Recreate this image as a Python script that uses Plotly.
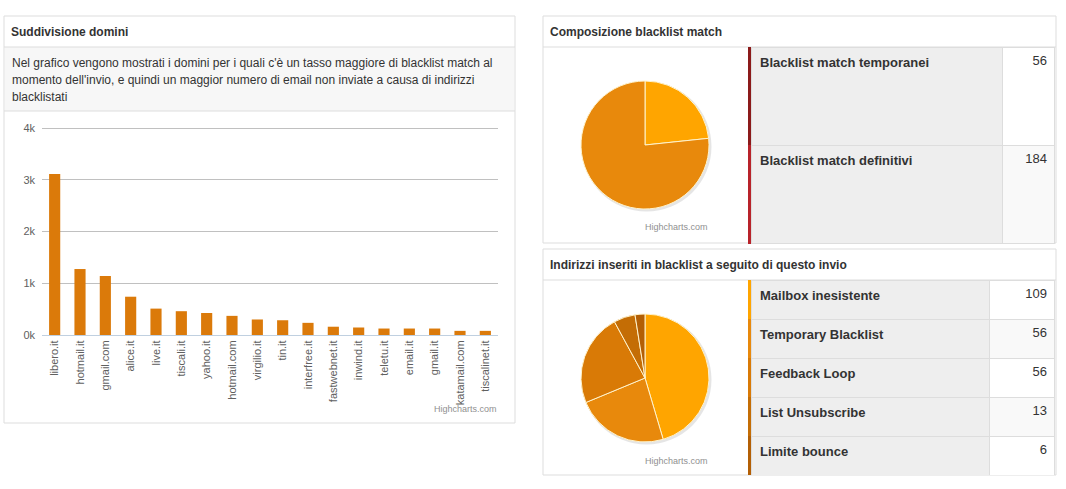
import plotly.graph_objects as go

W, H = 1066, 489

# ---------------- data ----------------
domains = ["libero.it", "hotmail.it", "gmail.com", "alice.it", "live.it", "tiscali.it",
           "yahoo.it", "hotmail.com", "virgilio.it", "tin.it", "interfree.it",
           "fastwebnet.it", "inwind.it", "teletu.it", "email.it", "gmail.it",
           "katamail.com", "tiscalinet.it"]
domain_counts = [3110, 1275, 1140, 740, 510, 460, 425, 370, 300, 285, 235,
                 160, 145, 125, 125, 125, 80, 80]
y_tickvals = [0, 1000, 2000, 3000, 4000]
y_ticktext = ["0k", "1k", "2k", "3k", "4k"]

match_labels = ["Blacklist match temporanei", "Blacklist match definitivi"]
match_values = [56, 184]
match_pie_colors = ["#FFA500", "#E8890C"]
match_strip_colors = ["#8B1A1A", "#B8232A"]

bl_labels = ["Mailbox inesistente", "Temporary Blacklist", "Feedback Loop",
             "List Unsubscribe", "Limite bounce"]
bl_values = [109, 56, 56, 13, 6]
bl_colors = ["#FFA500", "#E8890C", "#D97A06", "#C46D05", "#B35F05"]

FONT = "Arial, Liberation Sans, sans-serif"


def px(x):
    return x / W


def py(y):
    return 1 - y / H


fig = go.Figure()

# ---------------- bar chart ----------------
fig.add_trace(go.Bar(
    x=domains, y=domain_counts, marker=dict(color="#DB7A0A", line=dict(width=0)),
    width=0.44, xaxis="x", yaxis="y", showlegend=False, hoverinfo="x+y"))

# ---------------- pies ----------------
fig.add_trace(go.Pie(
    labels=match_labels, values=match_values, sort=False, direction="clockwise",
    rotation=0, marker=dict(colors=match_pie_colors, line=dict(color="#FFF3CC", width=1)),
    textinfo="none", showlegend=False,
    domain=dict(x=[px(581), px(709)], y=[py(209), py(81)])))

fig.add_trace(go.Pie(
    labels=bl_labels, values=bl_values, sort=False, direction="clockwise",
    rotation=0, marker=dict(colors=bl_colors, line=dict(color="#FFF3CC", width=1)),
    textinfo="none", showlegend=False,
    domain=dict(x=[px(581), px(709)], y=[py(442), py(314)])))

# ---------------- tables ----------------
def make_table(labels, values, strips, value_fills, xdom, ydom, row_h, widths):
    n = len(labels)
    return go.Table(
        domain=dict(x=xdom, y=ydom),
        columnwidth=widths,
        header=dict(values=["", "", ""], height=1,
                    fill=dict(color="rgba(0,0,0,0)"), line=dict(width=0)),
        cells=dict(
            values=[[""] * n, ["<b>%s</b>" % l for l in labels], [str(v) for v in values]],
            fill=dict(color=[strips, ["#EEEEEE"] * n, value_fills]),
            line=dict(color=[strips, ["#DDDDDD"] * n, ["#DDDDDD"] * n], width=1),
            align=["left", "left", "right"],
            font=dict(family=FONT, size=13, color="#333333"),
            height=row_h),
    )


fig.add_trace(make_table(match_labels, match_values, match_strip_colors,
                         ["#FFFFFF", "#F9F9F9"],
                         [px(748), px(1056)], [py(244), py(46)], 98, [4, 251, 53]))
fig.add_trace(make_table(bl_labels, bl_values, bl_colors,
                         ["#FFFFFF", "#F9F9F9", "#FFFFFF", "#F9F9F9", "#FFFFFF"],
                         [px(748), px(1056)], [py(476), py(279)], 39, [4, 238, 66]))

# ---------------- panels (shapes) ----------------
shapes = []


def rect(x0, y0, x1, y1, fill="rgba(0,0,0,0)", line="#DDDDDD", lw=1, layer="below"):
    shapes.append(dict(type="rect", xref="paper", yref="paper",
                       x0=px(x0), x1=px(x1), y0=py(y1), y1=py(y0),
                       fillcolor=fill, line=dict(color=line, width=lw), layer=layer))


def hline(x0, x1, y, color="#DDDDDD"):
    shapes.append(dict(type="line", xref="paper", yref="paper",
                       x0=px(x0), x1=px(x1), y0=py(y), y1=py(y),
                       line=dict(color=color, width=1), layer="below"))


def circle(cx, cy, r, fill):
    shapes.append(dict(type="circle", xref="paper", yref="paper",
                       x0=px(cx - r), x1=px(cx + r), y0=py(cy + r), y1=py(cy - r),
                       fillcolor=fill, line=dict(width=0), layer="below"))


# left panel
rect(4, 16, 515, 423, fill="#FFFFFF")
rect(5, 47, 514, 111, fill="#F7F7F7", line="rgba(0,0,0,0)", lw=0)
hline(4, 515, 47)
hline(4, 515, 111)
# right top panel
rect(543, 16, 1056, 243, fill="#FFFFFF")
hline(543, 1056, 47)
# right bottom panel
rect(543, 249, 1056, 475, fill="#FFFFFF")
hline(543, 1056, 280)
# soft pie shadows
circle(646.5, 146.5, 65, "rgba(0,0,0,0.10)")
circle(646.5, 379.5, 65, "rgba(0,0,0,0.10)")

annotations = []


def text(x, y, s, size=12, bold=False, color="#333333", xanchor="left"):
    annotations.append(dict(xref="paper", yref="paper", x=px(x), y=py(y), text=("<b>%s</b>" % s) if bold else s,
                            showarrow=False, xanchor=xanchor, yanchor="middle",
                            font=dict(family=FONT, size=size, color=color)))


text(9, 32, "Suddivisione domini", size=12, bold=True)
text(548, 32, "Composizione blacklist match", size=12, bold=True)
text(548, 265, "Indirizzi inseriti in blacklist a seguito di questo invio", size=12, bold=True)
text(10, 63, "Nel grafico vengono mostrati i domini per i quali c'è un tasso maggiore di blacklist match al")
text(10, 80, "momento dell'invio, e quindi un maggior numero di email non inviate a causa di indirizzi")
text(10, 97, "blacklistati")
text(499, 409, "Highcharts.com", size=9, color="#909090", xanchor="right")
text(710, 227, "Highcharts.com", size=9, color="#909090", xanchor="right")
text(710, 461, "Highcharts.com", size=9, color="#909090", xanchor="right")

fig.update_layout(
    template="none",
    width=W, height=H, margin=dict(l=0, r=0, t=0, b=0, pad=0, autoexpand=False),
    paper_bgcolor="#FFFFFF", plot_bgcolor="rgba(0,0,0,0)",
    font=dict(family=FONT, size=11, color="#606060"),
    shapes=shapes, annotations=annotations,
    xaxis=dict(domain=[px(42), px(498)], anchor="y", type="category",
               range=[-0.5, len(domains) - 0.5], automargin=False,
               tickangle=-90, tickfont=dict(size=11, color="#606060"),
               showline=True, linecolor="#C0D0E0", linewidth=1,
               showgrid=False, ticks="", fixedrange=True),
    xaxis2=dict(domain=[px(42), px(498)], anchor="y", overlaying="x",
                range=[-0.5, len(domains) - 0.5], automargin=False,
                tickvals=[i - 0.5 for i in range(len(domains) + 1)],
                ticks="outside", ticklen=5, tickcolor="#C0D0E0",
                showticklabels=False, showgrid=False, showline=False, zeroline=False),
    yaxis=dict(domain=[py(335), py(127)], anchor="x", range=[0, 4020], automargin=False,
               tickvals=y_tickvals, ticktext=y_ticktext,
               tickfont=dict(size=11, color="#606060"),
               showgrid=True, gridcolor="#C0C0C0", zeroline=False,
               showline=False, ticks="", ticklabelstandoff=6),
)

fig.write_html("out.html", config={"displayModeBar": False},
               post_script="document.body.style.margin='0';")
